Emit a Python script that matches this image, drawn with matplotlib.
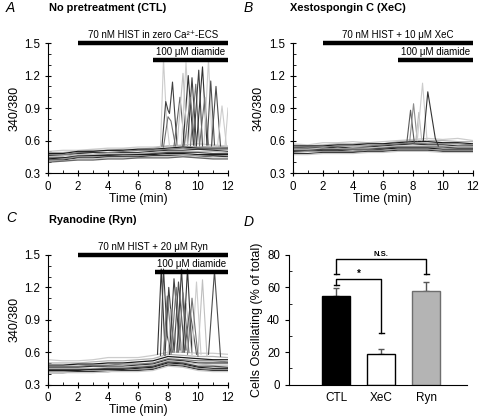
import matplotlib
matplotlib.use("Agg")
import matplotlib.pyplot as plt
from matplotlib.ticker import MultipleLocator

plt.rcParams['font.family'] = ['Liberation Sans', 'DejaVu Sans']

# time grid for baseline traces (min)
t_grid = [0, 1, 2, 3, 4, 5, 6, 7, 8, 9, 10, 11, 12]

# ---- panel A: no pretreatment ----
a_base = [
    [0.50, 0.51, 0.51, 0.52, 0.53, 0.53, 0.54, 0.54, 0.55, 0.56, 0.57, 0.56, 0.55],
    [0.49, 0.49, 0.50, 0.51, 0.51, 0.52, 0.52, 0.53, 0.55, 0.55, 0.54, 0.55, 0.54],
    [0.48, 0.48, 0.50, 0.50, 0.51, 0.51, 0.52, 0.52, 0.53, 0.54, 0.53, 0.53, 0.53],
    [0.47, 0.47, 0.49, 0.49, 0.49, 0.50, 0.51, 0.51, 0.52, 0.53, 0.52, 0.52, 0.52],
    [0.46, 0.46, 0.48, 0.49, 0.48, 0.49, 0.49, 0.50, 0.51, 0.51, 0.52, 0.51, 0.50],
    [0.45, 0.46, 0.47, 0.47, 0.48, 0.48, 0.48, 0.49, 0.50, 0.50, 0.50, 0.50, 0.49],
    [0.44, 0.44, 0.46, 0.46, 0.47, 0.47, 0.47, 0.48, 0.49, 0.49, 0.49, 0.48, 0.48],
    [0.43, 0.44, 0.45, 0.46, 0.46, 0.46, 0.47, 0.47, 0.48, 0.48, 0.47, 0.47, 0.47],
    [0.42, 0.43, 0.45, 0.45, 0.45, 0.46, 0.46, 0.46, 0.47, 0.47, 0.46, 0.46, 0.46],
    [0.42, 0.42, 0.44, 0.44, 0.45, 0.45, 0.45, 0.46, 0.46, 0.46, 0.45, 0.46, 0.45],
    [0.41, 0.41, 0.43, 0.43, 0.44, 0.44, 0.44, 0.45, 0.45, 0.46, 0.45, 0.44, 0.44],
    [0.40, 0.41, 0.42, 0.42, 0.43, 0.43, 0.44, 0.44, 0.44, 0.45, 0.44, 0.43, 0.43],
]
a_spike_t = [
    [7.5, 7.7, 7.9, 8.1], [7.6, 7.85, 8.0, 8.1, 8.3, 8.6], [7.7, 8.0, 8.2, 8.5],
    [8.4, 8.8, 9.1], [8.9, 9.2, 9.5], [9.0, 9.35, 9.7], [9.3, 9.6, 9.9],
    [9.5, 9.85, 10.1], [9.7, 10.05, 10.3], [9.9, 10.3, 10.6], [10.1, 10.45, 10.7],
    [10.4, 10.7, 10.95], [10.6, 10.85, 11.1], [10.9, 11.2, 11.5], [11.3, 11.6, 11.9],
    [11.8, 12.0], [8.6, 9.0, 9.3], [9.1, 9.5, 9.8],
]
a_spike_y = [
    [0.55, 1.35, 0.80, 0.55], [0.55, 0.96, 0.88, 0.85, 1.14, 0.56], [0.54, 0.82, 0.78, 0.55],
    [0.55, 1.00, 0.56], [0.56, 1.32, 0.57], [0.55, 1.20, 0.56], [0.56, 1.18, 0.55],
    [0.55, 1.12, 0.56], [0.56, 1.25, 0.55], [0.56, 1.28, 0.56], [0.55, 1.00, 0.56],
    [0.56, 1.35, 0.55], [0.56, 1.15, 0.56], [0.55, 1.10, 0.55], [0.55, 0.92, 0.55],
    [0.55, 0.90], [0.55, 1.22, 0.56], [0.56, 1.00, 0.55],
]
a_spike_shade = ['0.8', '0.25', '0.45', '0.4', '0.8', '0.2', '0.25', '0.45', '0.25',
                 '0.2', '0.45', '0.8', '0.3', '0.3', '0.8', '0.8', '0.75', '0.45']

# ---- panel B: xestospongin C ----
b_base = [
    [0.57, 0.56, 0.58, 0.58, 0.59, 0.58, 0.59, 0.60, 0.61, 0.62, 0.61, 0.62, 0.60],
    [0.56, 0.55, 0.56, 0.57, 0.57, 0.58, 0.57, 0.59, 0.60, 0.60, 0.60, 0.59, 0.59],
    [0.55, 0.55, 0.55, 0.56, 0.56, 0.57, 0.57, 0.58, 0.59, 0.59, 0.58, 0.58, 0.57],
    [0.54, 0.53, 0.54, 0.55, 0.55, 0.55, 0.56, 0.57, 0.58, 0.57, 0.57, 0.57, 0.56],
    [0.53, 0.53, 0.53, 0.54, 0.53, 0.54, 0.55, 0.56, 0.57, 0.56, 0.56, 0.55, 0.55],
    [0.52, 0.52, 0.53, 0.52, 0.53, 0.53, 0.54, 0.55, 0.55, 0.55, 0.55, 0.54, 0.54],
    [0.51, 0.51, 0.52, 0.52, 0.52, 0.52, 0.53, 0.54, 0.54, 0.54, 0.54, 0.53, 0.53],
    [0.50, 0.50, 0.51, 0.51, 0.50, 0.51, 0.52, 0.53, 0.53, 0.53, 0.52, 0.52, 0.52],
    [0.49, 0.50, 0.50, 0.50, 0.50, 0.51, 0.51, 0.52, 0.52, 0.52, 0.51, 0.51, 0.51],
    [0.48, 0.48, 0.49, 0.49, 0.49, 0.50, 0.50, 0.51, 0.51, 0.51, 0.50, 0.50, 0.50],
    [0.47, 0.47, 0.48, 0.48, 0.48, 0.49, 0.49, 0.50, 0.50, 0.50, 0.49, 0.49, 0.49],
]
b_spike_t = [[7.6, 7.85, 8.1], [7.8, 8.05, 8.3], [8.2, 8.4, 8.6],
             [8.3, 8.65, 8.95], [8.7, 9.0, 9.5, 9.7]]
b_spike_y = [[0.58, 0.88, 0.58], [0.60, 0.94, 0.60], [0.60, 0.86, 0.60],
             [0.60, 1.13, 0.60], [0.60, 1.05, 0.62, 0.55]]
b_spike_shade = ['0.35', '0.55', '0.75', '0.8', '0.2']

# ---- panel C: ryanodine ----
c_base = [
    [0.53, 0.52, 0.52, 0.53, 0.55, 0.55, 0.55, 0.57, 0.60, 0.60, 0.59, 0.59, 0.58],
    [0.50, 0.50, 0.50, 0.51, 0.52, 0.52, 0.53, 0.54, 0.58, 0.57, 0.56, 0.56, 0.55],
    [0.48, 0.48, 0.49, 0.49, 0.50, 0.50, 0.51, 0.52, 0.56, 0.55, 0.54, 0.53, 0.53],
    [0.47, 0.47, 0.47, 0.48, 0.48, 0.49, 0.49, 0.50, 0.54, 0.53, 0.52, 0.52, 0.51],
    [0.46, 0.46, 0.46, 0.47, 0.47, 0.47, 0.48, 0.49, 0.53, 0.52, 0.50, 0.50, 0.50],
    [0.45, 0.45, 0.45, 0.45, 0.46, 0.46, 0.47, 0.48, 0.52, 0.51, 0.49, 0.48, 0.48],
    [0.44, 0.44, 0.44, 0.44, 0.45, 0.45, 0.46, 0.47, 0.51, 0.50, 0.47, 0.47, 0.46],
    [0.43, 0.43, 0.43, 0.44, 0.44, 0.44, 0.45, 0.46, 0.50, 0.49, 0.46, 0.45, 0.45],
    [0.42, 0.42, 0.42, 0.43, 0.43, 0.43, 0.44, 0.45, 0.49, 0.48, 0.45, 0.44, 0.44],
    [0.41, 0.41, 0.42, 0.42, 0.42, 0.43, 0.43, 0.44, 0.48, 0.47, 0.44, 0.43, 0.43],
    [0.41, 0.41, 0.41, 0.41, 0.42, 0.42, 0.42, 0.43, 0.47, 0.46, 0.43, 0.42, 0.42],
]
c_spike_t = [
    [7.3, 7.55, 7.8], [7.5, 7.7, 7.95, 8.2], [7.7, 7.95, 8.3], [7.8, 8.05, 8.4],
    [8.0, 8.2, 8.6], [8.1, 8.4, 8.8], [8.2, 8.55, 8.9], [8.4, 8.7, 9.1],
    [8.6, 8.9, 9.2], [8.7, 9.0, 9.4], [8.9, 9.2, 9.6], [9.0, 9.3, 9.6],
    [9.1, 9.45, 9.9], [9.6, 9.9, 10.2], [10.0, 10.3, 10.6], [10.7, 11.1, 11.5],
    [9.3, 9.6, 10.0],
]
c_spike_y = [
    [0.58, 1.37, 0.62], [0.57, 1.37, 0.75, 0.60], [0.58, 1.12, 0.60], [0.57, 1.20, 0.62],
    [0.58, 1.00, 0.60], [0.58, 1.28, 0.62], [0.58, 1.20, 0.60], [0.60, 1.25, 0.62],
    [0.60, 1.37, 0.62], [0.60, 1.15, 0.60], [0.60, 1.05, 0.58], [0.60, 1.37, 0.60],
    [0.60, 1.00, 0.58], [0.58, 1.25, 0.58], [0.58, 1.27, 0.56], [0.58, 1.35, 0.56],
    [0.58, 1.10, 0.56],
]
c_spike_shade = ['0.2', '0.25', '0.45', '0.25', '0.75', '0.25', '0.45', '0.3',
                 '0.25', '0.45', '0.75', '0.2', '0.35', '0.8', '0.75', '0.3', '0.45']

base_shade = ['0.8', '0.7', '0.1', '0.5', '0.2', '0.75', '0.3', '0.1', '0.6', '0.2', '0.8', '0.4']

# ---- panel D: summary ----
groups = ['CTL', 'XeC', 'Ryn']
pct_osc = [54.5, 18.8, 57.5]
pct_err = [5.0, 3.3, 6.0]

fig = plt.figure(figsize=(4.8, 4.18), dpi=100)


def trace_panel(rect, base, sp_t, sp_y, sp_shade, bar1, bar1_start, bar2_start):
    ax = fig.add_axes(rect)
    for i, row in enumerate(base):
        ax.plot(t_grid, row, color=base_shade[i % len(base_shade)], lw=0.9)
    for tt, yy, sh in zip(sp_t, sp_y, sp_shade):
        ax.plot(tt, yy, color=sh, lw=0.8)
    ax.set_xlim(0, 12)
    ax.set_ylim(0.3, 1.5)
    ax.xaxis.set_major_locator(MultipleLocator(2))
    ax.xaxis.set_minor_locator(MultipleLocator(1))
    ax.yaxis.set_major_locator(MultipleLocator(0.3))
    ax.yaxis.set_minor_locator(MultipleLocator(0.1))
    ax.spines[['top', 'right']].set_visible(False)
    ax.tick_params(which='major', direction='inout', length=4, width=0.8, labelsize=8.3)
    ax.tick_params(which='minor', direction='in', length=2, width=0.6)
    ax.set_xlabel('Time (min)', fontsize=8.8, labelpad=0)
    ax.set_ylabel('340/380', fontsize=9, labelpad=3)
    # treatment bars
    ax.plot([bar1_start, 12], [1.5, 1.5], color='black', lw=3.2, clip_on=False,
            solid_capstyle='butt')
    ax.text((bar1_start + 12) / 2, 1.575, bar1, ha='center', va='center', fontsize=7)
    ax.plot([bar2_start, 12], [1.345, 1.345], color='black', lw=3.2, clip_on=False,
            solid_capstyle='butt')
    ax.text((bar2_start + 12) / 2, 1.415, '100 \u03bcM diamide', ha='center',
            va='center', fontsize=7)
    return ax


trace_panel([0.100, 0.586, 0.375, 0.311], a_base, a_spike_t, a_spike_y, a_spike_shade,
            '70 nM HIST in zero Ca\u00b2\u207a-ECS', 2, 7)
trace_panel([0.610, 0.586, 0.375, 0.311], b_base, b_spike_t, b_spike_y, b_spike_shade,
            '70 nM HIST + 10 \u03bcM XeC', 2, 7)
trace_panel([0.100, 0.080, 0.375, 0.310], c_base, c_spike_t, c_spike_y, c_spike_shade,
            '70 nM HIST + 20 \u03bcM Ryn', 2, 7.15)

# bar chart
axd = fig.add_axes([0.602, 0.080, 0.371, 0.310])
xpos = [1, 2, 3]
axd.bar(xpos, pct_osc, width=0.62, color=['black', 'white', '#b4b4b4'],
        edgecolor=['black', 'black', '#6e6e6e'], linewidth=1.0, zorder=2)
axd.errorbar(xpos, pct_osc, yerr=[[0, 0, 0], pct_err], fmt='none',
             ecolor='#555555', elinewidth=1.0, capsize=2.5, capthick=1.0, zorder=1)
axd.set_xlim(-0.05, 3.9)
axd.set_ylim(0, 80)
axd.set_xticks(xpos)
axd.set_xticklabels(groups)
axd.yaxis.set_major_locator(MultipleLocator(20))
axd.yaxis.set_minor_locator(MultipleLocator(10))
axd.spines[['top', 'right']].set_visible(False)
axd.tick_params(axis='x', length=0, labelsize=8.5, pad=5)
axd.tick_params(axis='y', which='major', direction='out', length=3, labelsize=8.3)
axd.tick_params(axis='y', which='minor', direction='in', length=2)
axd.set_ylabel('Cells Oscillating (% of total)', fontsize=9, labelpad=3)

# significance brackets
axd.plot([1, 1, 3, 3], [68, 77.5, 77.5, 68], color='black', lw=1.0)
axd.plot([0.94, 1.06], [68, 68], color='black', lw=1.0)
axd.plot([2.94, 3.06], [68, 68], color='black', lw=1.0)
axd.text(2, 78.3, 'N.S.', ha='center', va='bottom', fontsize=5.5, fontweight='bold')
axd.plot([1, 1, 2, 2], [61.5, 65, 65, 32], color='black', lw=1.0)
axd.plot([0.94, 1.06], [61.5, 61.5], color='black', lw=1.0)
axd.plot([1.94, 2.06], [32, 32], color='black', lw=1.0)
axd.text(1.5, 65.5, '*', ha='center', va='bottom', fontsize=7, fontweight='bold')

# panel letters and titles
fig.text(0.012, 0.981, 'A', fontsize=10, style='italic', va='center')
fig.text(0.102, 0.981, 'No pretreatment (CTL)', fontsize=7.9, fontweight='bold', va='center')
fig.text(0.508, 0.981, 'B', fontsize=10, style='italic', va='center')
fig.text(0.605, 0.981, 'Xestospongin C (XeC)', fontsize=7.9, fontweight='bold', va='center')
fig.text(0.012, 0.478, 'C', fontsize=10, style='italic', va='center')
fig.text(0.102, 0.473, 'Ryanodine (Ryn)', fontsize=7.9, fontweight='bold', va='center')
fig.text(0.508, 0.468, 'D', fontsize=10, style='italic', va='center')

fig.savefig('out.png', dpi=100)
